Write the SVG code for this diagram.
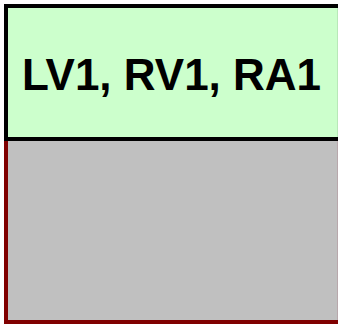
<svg xmlns="http://www.w3.org/2000/svg" width="338" height="324" viewBox="0 0 338 324">
  <style>
    .label { font-family: "Liberation Sans", Arial, sans-serif; font-weight: bold; font-size: 44px; fill: #000; }
  </style>
  <rect width="338" height="324" fill="#ffffff"/>
  <!-- lower grey compartment with dark red edges -->
  <g id="lower">
    <rect x="4" y="139" width="334" height="185" fill="#c0c0c0"/>
    <rect x="4" y="139" width="4" height="185" fill="#800000"/>
    <rect x="4" y="320" width="334" height="4" fill="#800000"/>
    <rect x="337" y="141" width="1" height="179" fill="#b8a8ac"/>
  </g>
  <!-- upper green label box -->
  <g id="header">
    <rect x="6" y="6" width="336" height="133" fill="#ccffcc" stroke="#000" stroke-width="4"/>
    <rect x="337" y="8" width="1" height="129" fill="#b8e8b8"/>
    <text class="label" x="171.5" y="90" text-anchor="middle">LV1, RV1, RA1</text>
  </g>
</svg>
